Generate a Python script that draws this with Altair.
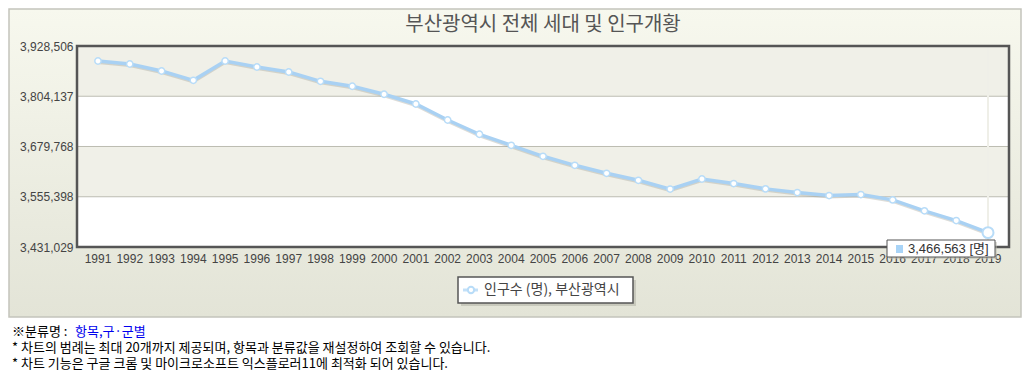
import altair as alt
import pandas as pd

# ---------------- data ----------------
years = list(range(1991, 2020))
population = [3891400, 3884000, 3866600, 3843600, 3891400, 3876500, 3864200,
              3841100, 3828800, 3809000, 3785000, 3745400, 3710000, 3682700,
              3655500, 3633200, 3613400, 3596100, 3574400, 3599300, 3588100,
              3574900, 3565800, 3558400, 3560800, 3547700, 3520500, 3496500,
              3466563]
y_ticks = [3431029, 3555398, 3679768, 3804137, 3928506]
chart_title = "부산광역시 전체 세대 및 인구개황"
series_name = "인구수 (명), 부산광역시"
unit = "명"
note_label = "※분류명 :"
note_value = "항목,구·군별"
note_lines = ["* 차트의 범례는 최대 20개까지 제공되며, 항목과 분류값을 재설정하여 조회할 수 있습니다.",
              "* 차트 기능은 구글 크롬 및 마이크로소프트 익스플로러11에 최적화 되어 있습니다."]

# ---------------- layout / style ----------------
W, H = 932, 201
FONT = "Liberation Sans, Noto Sans CJK KR, sans-serif"
KFONT = "Noto Sans CJK KR, sans-serif"
LINE_C = "#a9d1f3"

df = pd.DataFrame({"year": years, "pop": population})
last = df.tail(1)
bands = pd.DataFrame({"lo": [y_ticks[1], y_ticks[3]], "hi": [y_ticks[2], y_ticks[4]]})
grid = pd.DataFrame({"v": y_ticks[1:-1]})

yscale = alt.Scale(domain=[y_ticks[0], y_ticks[-1]], nice=False, zero=False)
xscale = alt.Scale(type="point", padding=0.66)
x_axis = alt.Axis(title=None, labels=False, ticks=False, domain=False, grid=False)
y_axis = alt.Axis(title=None, values=y_ticks, labelExpr="format(datum.value, ',')",
                  ticks=False, domain=False, grid=False, labelFont=FONT, labelFontSize=12,
                  labelColor="#444", labelPadding=4, zindex=1)

def one(t=""):
    return alt.Chart(pd.DataFrame({"t": [t]}))

# background panel
bg = one().mark_rect(
    fill=alt.LinearGradient(gradient="linear",
                            stops=[alt.GradientStop(color="#f7f8ee", offset=0),
                                   alt.GradientStop(color="#e3e4d7", offset=1)],
                            x1=0, x2=0, y1=0, y2=1),
    stroke="#c4c4bc", strokeWidth=1.5
).encode(x=alt.value(-68), x2=alt.value(W + 12), y=alt.value(-37), y2=alt.value(271))

plot_bg = one().mark_rect(fill="white").encode(
    x=alt.value(0), x2=alt.value(W), y=alt.value(0), y2=alt.value(H))

band_layer = alt.Chart(bands).mark_rect(fill="#f0f0e8").encode(
    y=alt.Y("lo:Q", scale=yscale, axis=y_axis), y2="hi:Q",
    x=alt.value(0), x2=alt.value(W))

grid_layer = alt.Chart(grid).mark_rule(color="#bdbdb2", strokeWidth=1).encode(
    y=alt.Y("v:Q", scale=yscale, axis=y_axis), x=alt.value(0), x2=alt.value(W))

x_enc = alt.X("year:O", scale=xscale, axis=x_axis)
y_enc = alt.Y("pop:Q", scale=yscale, axis=y_axis)

hover_rule = alt.Chart(last).mark_rule(color="#efefe8", strokeWidth=2).encode(
    x=x_enc, y=alt.value(0), y2=alt.value(H))

shadow = alt.Chart(df).mark_line(color="#9a9a90", strokeWidth=3, opacity=0.35, yOffset=1.5).encode(
    x=x_enc, y=y_enc)
line = alt.Chart(df).mark_line(color=LINE_C, strokeWidth=3.5).encode(x=x_enc, y=y_enc)
pts = alt.Chart(df).mark_circle(fill="white", stroke="#b8dcf8", strokeWidth=1.5, size=40, opacity=1).encode(
    x=x_enc, y=y_enc)
last_pt = alt.Chart(last).mark_circle(fill="white", stroke="#b8dcf8", strokeWidth=2, size=120, opacity=1).encode(
    x=x_enc, y=y_enc)

# x tick labels (through the x scale)
x_labels = alt.Chart(df).mark_text(baseline="middle", align="center", font=FONT, fontSize=12,
                                   color="#444").encode(x=x_enc, y=alt.value(H + 12), text="year:O")

# plot frame
frame = one().mark_rect(fill=None, stroke="#555", strokeWidth=2.5).encode(
    x=alt.value(0), x2=alt.value(W), y=alt.value(0), y2=alt.value(H))

# tooltip box for the last value
tip_text = f"{population[-1]:,} [{unit}]"
tip_shadow = one().mark_rect(fill="#bbbbb0", opacity=0.5).encode(
    x=alt.value(812), x2=alt.value(920), y=alt.value(196), y2=alt.value(213))
tip_box = one().mark_rect(fill="white", stroke="#555", strokeWidth=1).encode(
    x=alt.value(810), x2=alt.value(918), y=alt.value(194), y2=alt.value(211))
tip_sq = one().mark_rect(fill="#a9d4f7").encode(
    x=alt.value(819), x2=alt.value(826), y=alt.value(199), y2=alt.value(207))
tip_tx = one(tip_text).mark_text(align="left", baseline="middle", font=FONT, fontSize=13, color="#333").encode(
    x=alt.value(831), y=alt.value(203), text="t:N")

# title
title_tx = one(chart_title).mark_text(align="center", baseline="middle", font=KFONT, fontSize=20,
                                      color="#555").encode(x=alt.value(W / 2), y=alt.value(-21), text="t:N")

# legend box
leg_shadow = one().mark_rect(fill="#b5b6aa", opacity=0.6).encode(
    x=alt.value(384), x2=alt.value(559), y=alt.value(234), y2=alt.value(260))
leg_box = one().mark_rect(fill="white", stroke="#555", strokeWidth=1.5).encode(
    x=alt.value(381), x2=alt.value(556), y=alt.value(231), y2=alt.value(257))
leg_line = one().mark_rule(color="#c3e0f8", strokeWidth=3).encode(
    x=alt.value(386), x2=alt.value(401), y=alt.value(244))
leg_pt = one().mark_circle(fill="white", stroke="#b8dcf8", strokeWidth=2, size=40, opacity=1).encode(
    x=alt.value(394), y=alt.value(244))
leg_tx = one(series_name).mark_text(align="left", baseline="middle", font=KFONT, fontSize=14,
                                    color="#444").encode(x=alt.value(407), y=alt.value(244), text="t:N")

# notes
n0 = one(note_label).mark_text(align="left", baseline="middle", font=KFONT, fontSize=13, color="#000").encode(
    x=alt.value(-65), y=alt.value(286), text="t:N")
n0b = one(note_value).mark_text(align="left", baseline="middle", font=KFONT, fontSize=13, color="#0000ee").encode(
    x=alt.value(-2), y=alt.value(286), text="t:N")
n1 = one(note_lines[0]).mark_text(align="left", baseline="middle", font=KFONT, fontSize=13, color="#000").encode(
    x=alt.value(-65), y=alt.value(302), text="t:N")
n2 = one(note_lines[1]).mark_text(align="left", baseline="middle", font=KFONT, fontSize=13, color="#000").encode(
    x=alt.value(-65), y=alt.value(318), text="t:N")

chart = alt.layer(
    bg, plot_bg, band_layer, grid_layer, hover_rule, shadow, line, pts, last_pt, frame, x_labels,
    tip_shadow, tip_box, tip_sq, tip_tx, title_tx, leg_shadow, leg_box, leg_line, leg_pt, leg_tx,
    n0, n0b, n1, n2
).properties(
    width=W, height=H,
    autosize=alt.AutoSizeParams(type="none"),
    padding={"left": 69, "top": 38, "right": 13, "bottom": 126},
    background="white"
).configure_view(
    stroke=None
)

chart.save("out.html", embed_options={"renderer": "svg", "actions": False})
